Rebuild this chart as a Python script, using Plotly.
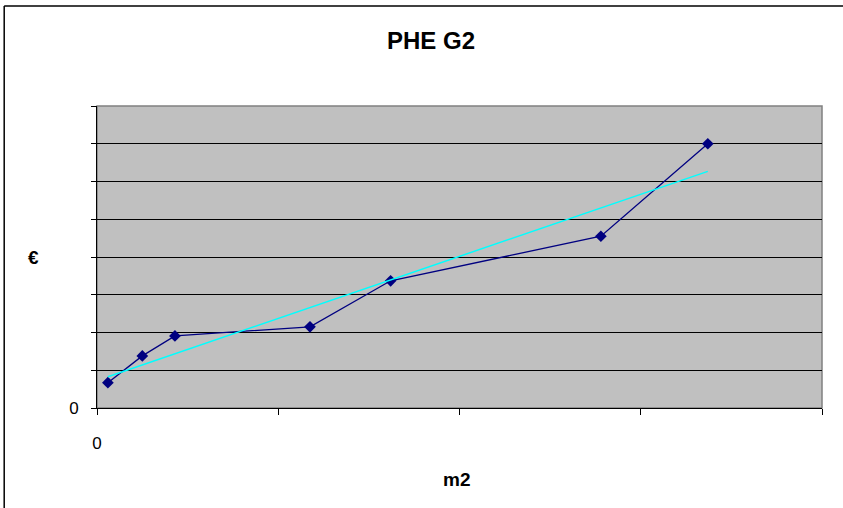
import numpy as np
import plotly.graph_objects as go

# valori (unità dell'asse, le etichette sono nascoste)
m2 = [6, 25, 43, 117.5, 162, 278, 337]
euro = [0.67, 1.38, 1.91, 2.15, 3.37, 4.55, 7.0]

x_ticks = [0, 100, 200, 300, 400]
y_ticks = [0, 1, 2, 3, 4, 5, 6, 7, 8]

# linea di tendenza lineare (come Excel)
slope, intercept = np.polyfit(m2, euro, 1)
trend_x = [min(m2), max(m2)]
trend_y = [slope * v + intercept for v in trend_x]

fig = go.Figure()
fig.add_trace(go.Scatter(
    x=m2, y=euro,
    mode="lines+markers",
    line=dict(color="#000080", width=1.3),
    marker=dict(symbol="diamond", size=9, color="#000080"),
    name="PHE G2"
))
fig.add_trace(go.Scatter(
    x=trend_x, y=trend_y,
    mode="lines",
    line=dict(color="#00FFFF", width=1.5),
    name="trend"
))

fig.update_layout(
    width=843, height=508,
    margin=dict(l=97, r=21, t=106, b=100),
    paper_bgcolor="white",
    plot_bgcolor="#C0C0C0",
    showlegend=False,
    font=dict(family="Liberation Sans, Arial", color="black"),
)

fig.update_xaxes(
    range=[0, 400], tickvals=x_ticks,
    ticktext=["0", "", "", "", ""],
    showgrid=False, zeroline=False,
    showline=True, linecolor="black", linewidth=1,
    ticks="outside", ticklen=6, tickcolor="black",
    tickfont=dict(size=17), ticklabelstandoff=14,
)
fig.update_yaxes(
    range=[0, 8], tickvals=y_ticks,
    ticktext=["0"] + [""] * 8,
    showgrid=True, gridcolor="black", gridwidth=1,
    zeroline=False,
    showline=True, linecolor="black", linewidth=1,
    ticks="outside", ticklen=5, tickcolor="black",
    tickfont=dict(size=17), ticklabelstandoff=9,
)

# bordo grigio dell'area del grafico (sopra e a destra)
fig.add_shape(type="rect", xref="paper", yref="paper", x0=0, x1=1, y0=0, y1=1,
              line=dict(color="#808080", width=1.5), layer="below")
# cornice esterna del grafico (sinistra e sopra)
fig.add_shape(type="line", xref="paper", yref="paper",
              x0=-0.128, x1=-0.128, y0=1.331, y1=-0.4,
              line=dict(color="black", width=1.5))
fig.add_shape(type="line", xref="paper", yref="paper",
              x0=-0.128, x1=1.1, y0=1.331, y1=1.331,
              line=dict(color="black", width=1.5))

fig.add_annotation(text="<b>PHE G2</b>", xref="paper", yref="paper",
                   x=0.46, y=1.0 + 66 / 302, showarrow=False,
                   font=dict(size=24), xanchor="center", yanchor="middle")
fig.add_annotation(text="<b>m2</b>", xref="paper", yref="paper",
                   x=0.4956, y=-72 / 302, showarrow=False,
                   font=dict(size=19), xanchor="center", yanchor="middle")
fig.add_annotation(text="<b>€</b>", xref="paper", yref="paper",
                   x=-64 / 725, y=151 / 302, showarrow=False,
                   font=dict(size=19), xanchor="center", yanchor="middle")

fig.write_html("out.html", config={"displayModeBar": False},
               post_script="document.body.style.margin='0';"
                           "document.body.style.overflow='hidden';")
